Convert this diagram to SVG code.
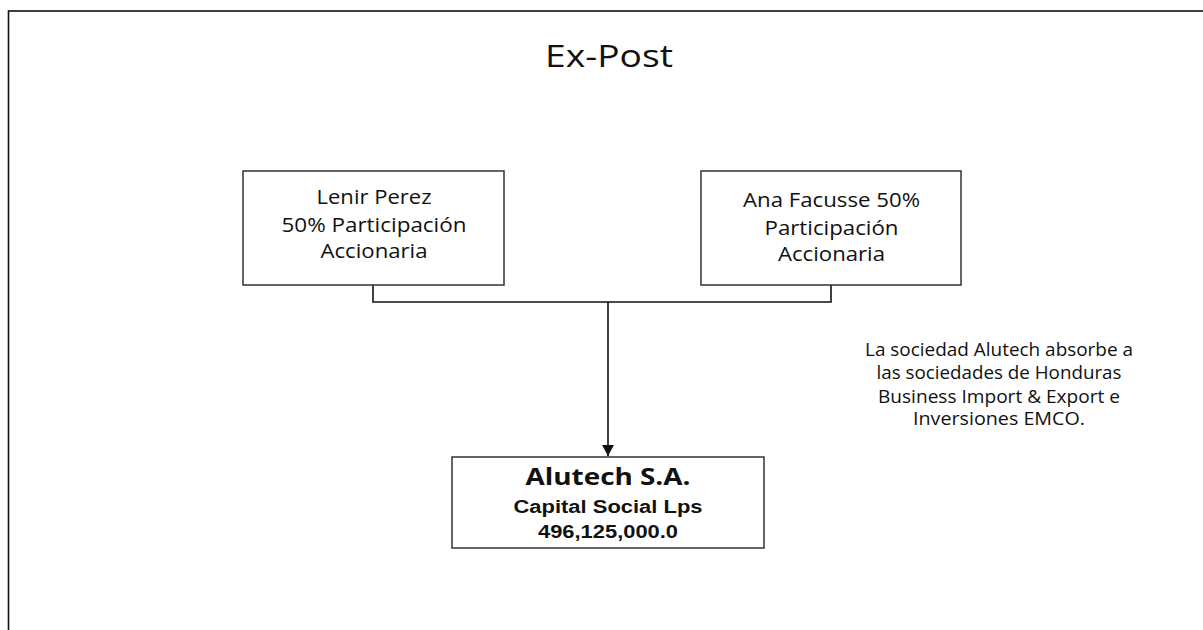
<svg xmlns="http://www.w3.org/2000/svg" width="1203" height="630" viewBox="0 0 1203 630">
<style>
.box{fill:#fff;stroke:#333;stroke-width:1.5}
.lbl{font-family:"Open Sans",Lato,sans-serif;font-size:20px;fill:#111;text-anchor:middle}
.note{font-family:"Open Sans",Lato,sans-serif;font-size:17.5px;fill:#111;text-anchor:middle}
.cap{font-family:"Liberation Sans",Arial,sans-serif;font-size:17.5px;font-weight:bold;fill:#111;text-anchor:middle}
.conn{fill:none;stroke:#111;stroke-width:1.6}
</style>
<defs>
<marker id="arr" viewBox="0 0 11 12" refX="11" refY="6" markerWidth="11" markerHeight="12" markerUnits="userSpaceOnUse" orient="auto">
<path d="M0,0 L11,6 L0,12 z" fill="#111"/>
</marker>
</defs>
<rect x="0" y="0" width="1203" height="630" fill="#fff"/>
<rect x="8.5" y="11" width="1220" height="640" fill="none" stroke="#111" stroke-width="1.6"/>
<text x="609" y="67" font-family="'Open Sans',Lato,sans-serif" font-size="31" fill="#111" text-anchor="middle" textLength="128" lengthAdjust="spacingAndGlyphs">Ex-Post</text>
<g id="connectors">
<path class="conn" d="M373,285 V302 H831 V285"/>
<path class="conn" d="M608,302 V456" marker-end="url(#arr)"/>
</g>
<g id="lenir">
<rect class="box" x="243" y="171" width="261" height="114"/>
<text class="lbl" x="374" y="204" textLength="115" lengthAdjust="spacingAndGlyphs">Lenir Perez</text>
<text class="lbl" x="374" y="232" textLength="185" lengthAdjust="spacingAndGlyphs">50% Participación</text>
<text class="lbl" x="374" y="258" textLength="107" lengthAdjust="spacingAndGlyphs">Accionaria</text>
</g>
<g id="ana">
<rect class="box" x="701" y="171" width="260" height="114"/>
<text class="lbl" x="831.5" y="207" textLength="177" lengthAdjust="spacingAndGlyphs">Ana Facusse 50%</text>
<text class="lbl" x="831.5" y="235" textLength="134" lengthAdjust="spacingAndGlyphs">Participación</text>
<text class="lbl" x="831.5" y="261" textLength="107" lengthAdjust="spacingAndGlyphs">Accionaria</text>
</g>
<g id="alutech">
<rect class="box" x="452" y="457" width="312" height="91"/>
<text x="608" y="485" font-family="'Open Sans',Lato,sans-serif" font-size="22.5" font-weight="bold" fill="#111" text-anchor="middle" textLength="165" lengthAdjust="spacingAndGlyphs">Alutech S.A.</text>
<text class="cap" x="608" y="513" textLength="189" lengthAdjust="spacingAndGlyphs">Capital Social Lps</text>
<text class="cap" x="608" y="538" textLength="140" lengthAdjust="spacingAndGlyphs">496,125,000.0</text>
</g>
<g id="note">
<text class="note" x="999" y="356" textLength="268" lengthAdjust="spacingAndGlyphs">La sociedad Alutech absorbe a</text>
<text class="note" x="999" y="379" textLength="245" lengthAdjust="spacingAndGlyphs">las sociedades de Honduras</text>
<text class="note" x="999" y="403" textLength="242" lengthAdjust="spacingAndGlyphs">Business Import &amp; Export e</text>
<text class="note" x="999" y="425" textLength="172" lengthAdjust="spacingAndGlyphs">Inversiones EMCO.</text>
</g>
</svg>
